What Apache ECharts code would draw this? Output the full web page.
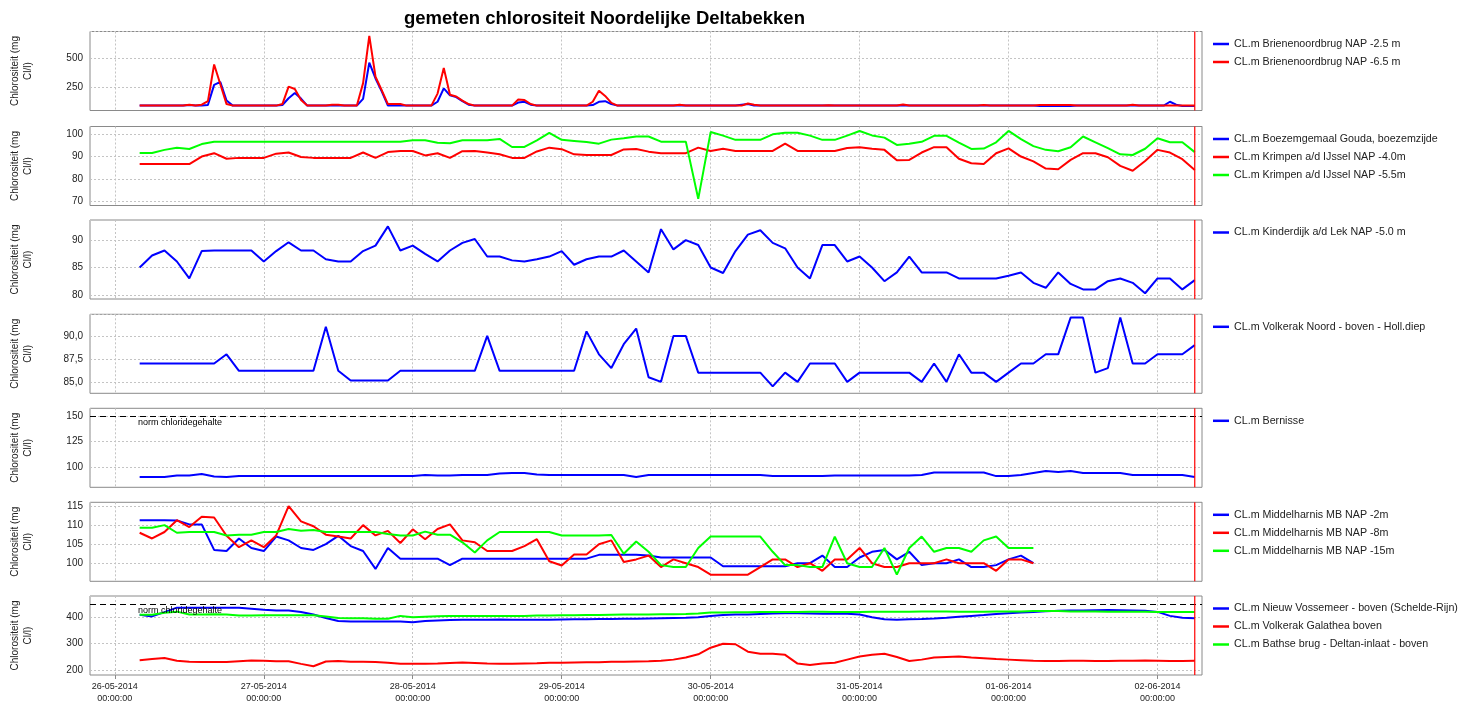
<!DOCTYPE html>
<html>
<head>
<meta charset="utf-8">
<title>gemeten chlorositeit Noordelijke Deltabekken</title>
<script src="https://cdn.jsdelivr.net/npm/echarts@6/dist/echarts.min.js"></script>
<style>
  html, body { margin: 0; padding: 0; background: #fff; }
  #main { width: 1473px; height: 704px; }
</style>
</head>
<body>
<div id="main"></div>
<script>
// metingen starten 26-05-2014 04:00, paneel 1 per uur, de rest per 2 uur
var startTime = new Date(2014, 4, 26, 4, 0, 0).getTime()
var endTime = new Date(2014, 5, 2, 6, 0, 0).getTime()   // rode lijn
var xMin = new Date(2014, 4, 25, 20, 0, 0).getTime()
var xMax = new Date(2014, 5, 2, 7, 10, 0).getTime()
var HOUR = 3600 * 1000
var DAY = 24 * HOUR

var legendNames = [
  ['CL.m Brienenoordbrug NAP -2.5 m', 'CL.m Brienenoordbrug NAP -6.5 m'],
  ['CL.m Boezemgemaal Gouda, boezemzijde', 'CL.m Krimpen a/d IJssel NAP -4.0m', 'CL.m Krimpen a/d IJssel NAP -5.5m'],
  ['CL.m Kinderdijk a/d Lek NAP -5.0 m'],
  ['CL.m Volkerak Noord - boven - Holl.diep'],
  ['CL.m Bernisse'],
  ['CL.m Middelharnis MB NAP -2m', 'CL.m Middelharnis MB NAP -8m', 'CL.m Middelharnis MB NAP -15m'],
  ['CL.m Nieuw Vossemeer - boven (Schelde-Rijn)', 'CL.m Volkerak Galathea boven', 'CL.m Bathse brug - Deltan-inlaat - boven']
]

// paneel 1 (per uur)
var brienenoord25 = [
  92,92,92,92,92,92,92,92,98,92,
  92,97,270,295,135,92,92,92,92,92,
  92,92,92,97,155,200,152,92,92,92,
  92,92,92,92,92,92,150,460,325,215,
  92,92,92,92,92,92,92,92,125,240,
  180,165,130,100,92,92,92,92,92,92,
  92,118,125,100,92,92,92,92,92,92,
  92,92,92,97,125,130,105,92,92,92,
  92,92,92,92,92,92,92,92,92,92,
  92,92,92,92,92,92,92,100,105,92,
  92,92,92,92,92,92,92,92,92,92,
  92,92,92,92,92,92,92,92,92,92,
  92,92,92,92,92,92,92,92,92,92,
  92,92,92,92,92,92,92,92,92,92,
  92,92,92,92,92,88,88,88,88,88,
  88,92,92,92,92,92,92,92,92,92,
  92,92,92,92,92,92,125,100,88,88,
  88
]
var brienenoord65 = [
  92,92,92,92,92,92,92,92,100,92,
  100,130,445,275,105,92,92,92,92,92,
  92,92,92,105,255,235,140,92,92,92,
  92,100,100,92,92,92,285,690,340,225,
  105,105,105,92,92,92,92,92,195,415,
  185,170,135,105,92,92,92,92,92,92,
  92,145,140,105,92,92,92,92,92,92,
  92,92,92,125,220,175,115,92,92,92,
  92,92,92,92,92,92,92,100,92,92,
  92,92,92,92,92,92,92,92,110,100,
  92,92,92,92,92,92,92,92,92,92,
  92,96,92,92,92,92,92,92,92,92,
  92,92,92,102,92,92,92,92,92,92,
  92,92,92,92,92,92,98,92,92,92,
  92,92,92,92,92,97,97,97,97,97,
  97,92,92,92,92,92,92,92,92,92,
  100,92,92,92,92,92,92,92,92,92,
  92
]

// paneel 2
var gouda = []
var krimpen40 = [
  86.6,86.6,86.6,86.6,86.6,90,91.5,89,89.4,89.4,
  89.4,91.3,91.8,89.8,89.4,89.4,89.4,89.4,91.8,89.4,
  92,92.5,92.5,90.5,91.5,89.4,92.4,92.5,91.8,91,
  89.4,89.4,92.3,94,93.3,91,90.7,90.7,90.7,93.2,
  93.4,92.2,91.5,91.5,91.5,94,92.5,93.5,92.5,92.5,
  92.5,92.5,95.8,92.5,92.5,92.5,92.5,93.8,94.2,93.5,
  93,88.3,88.5,91.8,94.2,94.2,89,87,86.6,91.5,
  93.7,90,87.8,84.6,84.3,88.5,91.5,91.5,89.7,85.8,
  83.6,88,93,91.8,88.8,84
]
var krimpen55 = [
  91.6,91.6,93,94,93.4,95.6,96.6,96.6,96.6,96.6,
  96.6,96.6,96.6,96.6,96.6,96.6,96.6,96.6,96.6,96.6,
  96.6,96.6,97.3,97.3,96.2,96,97.3,97.3,97.3,97.9,
  94.3,94.3,97.3,100.6,97.5,97,96.5,95.8,97.6,98.2,
  99,99,96.7,96.7,96.7,71,101,99.4,97.5,97.5,
  97.5,100,100.7,100.7,99.4,97.5,97.5,99.4,101.5,99.5,
  98.5,95.2,95.7,96.6,99.3,99.3,96.3,93.4,93.6,96.4,
  101.5,97.8,94.7,93,92.4,94.2,99,96.4,93.8,91,
  90.7,93.5,98.2,96.4,96.4,92
]

// paneel 3
var kinderdijk = [
  85,87.2,88.1,86.1,83,88,88.1,88.1,88.1,88.1,
  86.1,88,89.6,88.1,88.1,86.5,86.1,86.1,88,89,
  92.5,88.1,89,87.5,86.1,88.1,89.5,90.2,87,87,
  86.3,86.1,86.5,87,88,85.5,86.5,87,87,88.1,
  86.1,84.1,92,88.3,90,89.1,85,84,88,91,
  91.8,89.5,88.5,85,83,89.1,89.1,86.1,87,85,
  82.5,84.1,87,84.1,84.1,84.1,83,83,83,83,
  83.5,84.1,82.2,81.3,84.1,82,81,81,82.5,83,
  82.2,80.3,83,83,81,82.7
]

// paneel 4
var volkerakNoord = [
  87,87,87,87,87,87,87,88,86.2,86.2,
  86.2,86.2,86.2,86.2,86.2,91,86.2,85.15,85.15,85.15,
  85.15,86.2,86.2,86.2,86.2,86.2,86.2,86.2,90,86.2,
  86.2,86.2,86.2,86.2,86.2,86.2,90.5,88,86.5,89.1,
  90.8,85.5,85,90,90,86,86,86,86,86,
  86,84.5,86,85,87,87,87,85,86,86,
  86,86,86,85,87,85,88,86,86,85,
  86,87,87,88,88,92,92,86,86.5,92,
  87,87,88,88,88,89
]

// paneel 5
var bernisse = [
  90,90,90,91.5,91.5,93,90.5,90,91,91,
  91,91,91,91,91,91,91,91,91,91,
  91,91,91,92,91.5,91.5,92,92,92,93.5,
  94,94,92.5,92,92,92,92,92,92,92,
  90,92,92,92,92,92,92,92,92,92,
  92,91,91,91,91,91,91.5,91.5,91.5,91.5,
  91.5,91.5,91.5,92,94.5,94.5,94.5,94.5,94.5,91,
  91,92,94,96,95,96,94,94,94,94,
  92,92,92,92,92,90
]

// paneel 6
var middelharnis2 = [
  111.3,111.3,111.3,111.2,110.2,110.2,103.5,103.2,106.5,104,
  103.2,107,106,104,103.5,105,107.2,104.5,103.2,98.5,
  104,101.2,101.2,101.2,101.2,99.5,101.2,101.2,101.2,101.2,
  101.2,101.2,101.2,101.2,101.2,101.2,101.2,102.2,102.2,102.2,
  102.2,102,101.5,101.5,101.5,101.5,101.5,99.2,99.2,99.2,
  99.2,99.2,99.2,100,100,102,99,99,101.5,103,
  103.5,101,103,99.5,100,100,101,99,99,99.5,
  101,102,100
]
var middelharnis8 = [
  108,106.5,108.2,111.3,109.5,112.2,112,107.2,104.2,106,
  104.2,107.3,115,111,109.7,107.5,107,106.5,110,107.3,
  108.5,105.3,108.9,106.3,109,110.2,106,105.5,103.2,103.2,
  103.2,104.5,106.3,100.5,99.4,102.3,102.3,105,106,100.3,
  101,102,99,101,100,99,97,97,97,97,
  99,101,101,99,100,98,101,101,104,100,
  99,99,100,100,100,101,100,100,100,98,
  101,101,100
]
var middelharnis15 = [
  109.3,109.3,110,108,108.2,108.2,108.2,107.3,107.5,107.5,
  108.2,108.2,109,108.5,108.7,108.2,108.2,108.2,108.2,108.2,
  107.7,107.3,107.3,108.3,107.5,107.5,105.5,102.8,106,108.2,
  108.2,108.2,108.2,108.2,107.3,107.3,107.3,107.3,107.4,102.5,
  105.7,103,99.5,99,99,104,107,107,107,107,
  107,103,99.5,99.5,99,99,107,100,99,99,
  104,97,104,107,103,104,104,103,106,107,
  104,104,104
]

// paneel 7
var vossemeer = [
  409,403,419,436,436,436,436,436,436,432,
  428,425,425,420,410,397,386,384,384,384,
  384,384,381,386,388,389,390,390,390,391,
  390,390,390,390,391,392,392,393,393,394,
  394,395,396,397,398,400,405,408,410,410,
  412,414,415,415,414,413,413,413,410,400,
  392,390,392,393,395,398,402,405,408,412,
  415,418,420,422,424,425,425,426,427,426,
  425,424,420,405,398,396
]
var galathea = [
  238,242,246,236,232,231,231,231,234,237,
  236,234,234,224,215,233,235,232,232,231,
  228,224,224,224,225,227,229,227,225,224,
  224,225,226,228,228,229,230,230,232,232,
  233,234,236,240,248,260,285,300,298,270,
  262,262,258,225,220,225,228,240,252,258,
  262,250,235,240,248,250,252,248,245,242,
  240,238,236,235,235,236,236,235,235,236,
  236,237,236,235,235,236
]
var bathseBrug = [
  409,409,417,421,410,410,411,410,406,406,
  407,407,407,407,407,403,397,396,396,394,
  394,405,400,402,404,405,405,405,405,405,
  405,405,406,406,407,407,408,408,409,410,
  410,410,411,411,412,414,418,418,419,419,
  420,420,420,420,421,421,420,420,420,421,
  421,421,421,422,422,422,421,421,421,422,
  422,422,423,423,423,422,422,422,421,421,
  421,421,420,420,420,420
]

var normBernisse = 150
var normVossemeer = 450

// y-as per paneel: min, max, stap (min is veelvoud van stap), hoofdstreep
var yRanges = [
  { min: 50, max: 728, step: 50, major: 250 },
  { min: 68, max: 103.5, step: 2, major: 10 },
  { min: 79.25, max: 93.67, step: 0.25, major: 5 },
  { min: 83.75, max: 92.36, step: 0.25, major: 2.5, comma: true },
  { min: 80, max: 157.5, step: 5, major: 25 },
  { min: 95.25, max: 116, step: 0.25, major: 5 },
  { min: 182, max: 480, step: 2, major: 100 }
]

var BLUE = '#0000ff', RED = '#ff0000', GREEN = '#00ff00'
var FONT = 'Liberation Sans, Arial, sans-serif'

function toPairs(vals, stepHours) {
  return vals.map(function (v, k) { return [startTime + k * stepHours * HOUR, v] })
}

function isMajor(v, major) {
  var r = v / major
  return Math.abs(r - Math.round(r)) < 1e-6
}

function pad(n) { return (n < 10 ? '0' : '') + n }

var grids = [], xAxes = [], yAxes = [], legends = [], series = []
var panelTop = [31.5, 126.5, 220, 314.3, 408.3, 502.3, 596]

for (var k = 0; k < 7; k++) {
  grids.push({
    left: 90, width: 1112, top: panelTop[k], height: 79,
    show: true, borderColor: '#8a8a8a', borderWidth: 1, backgroundColor: '#fff',
    containLabel: false, outerBoundsMode: 'none'
  })

  xAxes.push({
    type: 'time', gridIndex: k, min: xMin, max: xMax,
    minInterval: DAY, maxInterval: DAY,
    axisLine: { show: false },
    axisTick: { show: k === 6, length: 4, lineStyle: { color: '#8a8a8a' } },
    axisLabel: {
      show: k === 6, fontSize: 9, color: '#222', fontFamily: FONT, lineHeight: 12, margin: 6,
      formatter: function (v) {
        var d = new Date(v)
        return pad(d.getDate()) + '-' + pad(d.getMonth() + 1) + '-' + d.getFullYear() + '\n' +
          pad(d.getHours()) + ':' + pad(d.getMinutes()) + ':' + pad(d.getSeconds())
      }
    },
    splitLine: { show: true, lineStyle: { color: '#c4c4c4', type: [2, 2], width: 1 } }
  })

  // alleen de hoofdstrepen krijgen een gridlijn
  var yr = yRanges[k]
  var nTicks = Math.round((yr.max - yr.min) / yr.step) + 3
  var lineColors = []
  for (var t = 0; t < nTicks; t++) {
    lineColors.push(isMajor(yr.min + t * yr.step, yr.major) ? '#c4c4c4' : 'rgba(0,0,0,0)')
  }
  yAxes.push({
    type: 'value', gridIndex: k, min: yr.min, max: yr.max, interval: yr.step,
    name: 'Chlorositeit (mg\nCl/l)', nameLocation: 'middle', nameGap: 55,
    nameTextStyle: { fontSize: 10, color: '#222', fontFamily: FONT, lineHeight: 13 },
    axisLine: { show: false }, axisTick: { show: false },
    axisLabel: {
      fontSize: 10, color: '#222', fontFamily: FONT, margin: 7,
      showMinLabel: true, showMaxLabel: true,
      formatter: (function (r) {
        return function (v) {
          if (!isMajor(v, r.major)) return ''
          return r.comma ? v.toFixed(1).replace('.', ',') : String(Math.round(v))
        }
      })(yr)
    },
    splitLine: { show: true, lineStyle: { color: lineColors, type: [2, 2], width: 1 } }
  })

  legends.push({
    orient: 'vertical', left: 1208, top: panelTop[k] + 1,
    data: legendNames[k], selectedMode: false,
    icon: 'rect', itemWidth: 16, itemHeight: 2.5, itemGap: 5,
    textStyle: { fontSize: 10.7, color: '#222', fontFamily: FONT, lineHeight: 13 }
  })
}

function lineSeries(name, k, color, vals, stepHours) {
  return {
    name: name, type: 'line', xAxisIndex: k, yAxisIndex: k,
    data: toPairs(vals, stepHours), showSymbol: false, symbol: 'none',
    lineStyle: { color: color, width: 2 }, itemStyle: { color: color },
    animation: false
  }
}

// normlijn: hulpserie zonder data met een markLine
function normSeries(k, norm) {
  return {
    name: 'norm' + k, type: 'line', xAxisIndex: k, yAxisIndex: k, data: [],
    symbol: 'none', itemStyle: { color: '#000' }, lineStyle: { color: '#000', width: 1 },
    animation: false,
    markLine: {
      silent: true, symbol: 'none', animation: false,
      lineStyle: { color: '#000', width: 1, type: [6, 4] },
      label: {
        show: true, position: 'insideStartBottom', formatter: 'norm chloridegehalte',
        fontSize: 9, color: '#000', fontFamily: FONT, distance: [48, 2]
      },
      data: [{ yAxis: norm }]
    }
  }
}

// rode lijn op het eindtijdstip, over de hele hoogte van het paneel
function endSeries(k) {
  var r = yRanges[k]
  return {
    name: 'eind' + k, type: 'line', xAxisIndex: k, yAxisIndex: k,
    data: [[endTime, r.min], [endTime, r.max]],
    symbol: 'none', showSymbol: false, silent: true, z: 5,
    lineStyle: { color: RED, width: 1.2 }, itemStyle: { color: RED },
    animation: false
  }
}

series.push(lineSeries(legendNames[0][0], 0, BLUE, brienenoord25, 1))
series.push(lineSeries(legendNames[0][1], 0, RED, brienenoord65, 1))

series.push(lineSeries(legendNames[1][0], 1, BLUE, gouda, 2))
series.push(lineSeries(legendNames[1][1], 1, RED, krimpen40, 2))
series.push(lineSeries(legendNames[1][2], 1, GREEN, krimpen55, 2))

series.push(lineSeries(legendNames[2][0], 2, BLUE, kinderdijk, 2))

series.push(lineSeries(legendNames[3][0], 3, BLUE, volkerakNoord, 2))

series.push(lineSeries(legendNames[4][0], 4, BLUE, bernisse, 2))
series.push(normSeries(4, normBernisse))

series.push(lineSeries(legendNames[5][0], 5, BLUE, middelharnis2, 2))
series.push(lineSeries(legendNames[5][1], 5, RED, middelharnis8, 2))
series.push(lineSeries(legendNames[5][2], 5, GREEN, middelharnis15, 2))

series.push(lineSeries(legendNames[6][0], 6, BLUE, vossemeer, 2))
series.push(lineSeries(legendNames[6][1], 6, RED, galathea, 2))
series.push(lineSeries(legendNames[6][2], 6, GREEN, bathseBrug, 2))
series.push(normSeries(6, normVossemeer))

for (var p = 0; p < 7; p++) {
  series.push(endSeries(p))
}

var myChart = echarts.init(document.getElementById('main'))
myChart.setOption({
  backgroundColor: '#fff',
  animation: false,
  title: {
    text: 'gemeten chlorositeit Noordelijke Deltabekken',
    left: 399, top: 4,
    textStyle: { fontSize: 18.5, fontWeight: 'bold', color: '#000', fontFamily: FONT }
  },
  legend: legends,
  grid: grids,
  xAxis: xAxes,
  yAxis: yAxes,
  series: series
})
</script>
</body>
</html>
